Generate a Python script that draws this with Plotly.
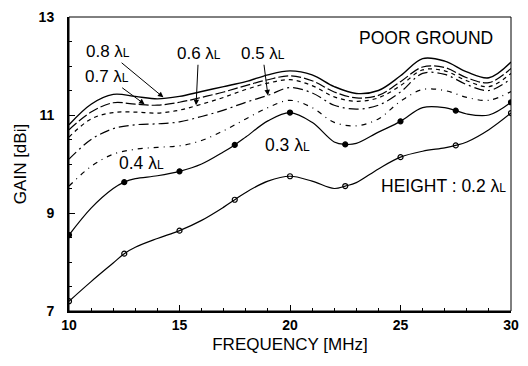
import plotly.graph_objects as go

# Frequency grid (MHz) for the dashed / upper curves
freq = [10, 11, 12, 13, 14, 15, 16, 17, 18, 19, 20,
        21, 22, 23, 24, 25, 26, 27, 28, 29, 30]

gain_08 = [10.80, 11.22, 11.42, 11.38, 11.33, 11.38, 11.48, 11.58, 11.68, 11.82, 11.90,
           11.82, 11.58, 11.44, 11.50, 11.80, 12.15, 12.10, 11.88, 11.76, 12.08]
gain_07 = [10.70, 11.06, 11.25, 11.22, 11.20, 11.26, 11.36, 11.47, 11.60, 11.72, 11.80,
           11.70, 11.47, 11.35, 11.40, 11.68, 11.98, 11.97, 11.76, 11.66, 11.95]
gain_06 = [10.55, 10.92, 11.05, 11.06, 11.04, 11.10, 11.22, 11.36, 11.52, 11.65, 11.72,
           11.60, 11.37, 11.28, 11.35, 11.60, 11.92, 11.90, 11.70, 11.58, 11.85]
gain_05 = [10.10, 10.50, 10.72, 10.80, 10.82, 10.86, 10.97, 11.10, 11.26, 11.40, 11.56,
           11.45, 11.20, 11.12, 11.20, 11.47, 11.85, 11.83, 11.62, 11.50, 11.74]
gain_04 = [9.55, 9.95, 10.20, 10.30, 10.34, 10.37, 10.48, 10.68, 10.92, 11.15, 11.30,
           11.15, 10.85, 10.78, 10.92, 11.28, 11.52, 11.50, 11.36, 11.30, 11.48]

# Frequency grid for the two lowest heights (includes the 2.5 MHz marker points)
freq_low = [10, 11, 12, 12.5, 13, 14, 15, 16, 17, 17.5, 18, 19, 20,
            21, 22, 22.5, 23, 24, 25, 26, 27, 27.5, 28, 29, 30]
gain_03 = [8.55, 9.10, 9.50, 9.63, 9.70, 9.76, 9.85, 10.00, 10.25, 10.39, 10.55, 10.88, 11.05,
           10.85, 10.45, 10.40, 10.42, 10.65, 10.87, 11.15, 11.15, 11.09, 11.02, 11.00, 11.26]
gain_02 = [7.20, 7.60, 7.98, 8.17, 8.30, 8.48, 8.64, 8.85, 9.12, 9.27, 9.42, 9.65, 9.75,
           9.65, 9.50, 9.55, 9.62, 9.90, 10.14, 10.26, 10.33, 10.38, 10.45, 10.70, 11.04]

marker_freqs = [10, 12.5, 15, 17.5, 20, 22.5, 25, 27.5, 30]

x_ticks = [10, 15, 20, 25, 30]
y_ticks = [7, 9, 11, 13]

FONT = "Liberation Sans, Arial, sans-serif"
LAM = "λ<span style='font-size:12px'>L</span>"

fig = go.Figure()

upper = [
    (gain_08, "solid", 1.4),
    (gain_07, "10px,3px", 1.2),
    (gain_06, "4px,4px", 1.2),
    (gain_05, "10px,4px,2px,4px", 1.2),
    (gain_04, "5px,5px,1px,5px", 1.2),
]
for g, dash, w in upper:
    fig.add_trace(go.Scatter(x=freq, y=g, mode="lines",
                             line=dict(color="black", width=w, dash=dash,
                                       shape="spline", smoothing=1.0),
                             hoverinfo="skip", showlegend=False))

for g, symbol in ((gain_03, "circle"), (gain_02, "circle-open")):
    fig.add_trace(go.Scatter(x=freq_low, y=g, mode="lines",
                             line=dict(color="black", width=1.2,
                                       shape="spline", smoothing=1.0),
                             hoverinfo="skip", showlegend=False))
    idx = [freq_low.index(f) for f in marker_freqs]
    fig.add_trace(go.Scatter(x=marker_freqs, y=[g[i] for i in idx], mode="markers",
                             marker=dict(symbol=symbol, size=5, color="black",
                                         line=dict(color="black", width=1.2)),
                             hoverinfo="skip", showlegend=False))

# Height labels with arrows pointing to their curves
arrow_labels = [
    ("0.8 " + LAM, 11.78, 12.29, 14.27, 11.36),
    ("0.7 " + LAM, 11.73, 11.78, 13.42, 11.22),
    ("0.6 " + LAM, 15.86, 12.25, 15.75, 11.20),
    ("0.5 " + LAM, 18.76, 12.25, 19.00, 11.40),
]
for text, tx, ty, px, py in arrow_labels:
    fig.add_annotation(x=px, y=py, ax=tx, ay=ty, axref="x", ayref="y",
                       text=text, showarrow=True, arrowhead=2, arrowsize=1.1,
                       arrowwidth=1, arrowcolor="black", standoff=0,
                       font=dict(family=FONT, size=17, color="black"))

plain_labels = [
    ("0.4 " + LAM, 13.3, 10.03),
    ("0.3 " + LAM, 19.9, 10.38),
    ("HEIGHT : 0.2 " + LAM, 26.95, 9.55),
    ("POOR GROUND", 26.15, 12.57),
]
for text, tx, ty in plain_labels:
    fig.add_annotation(x=tx, y=ty, text=text, showarrow=False,
                       font=dict(family=FONT, size=17.5, color="black"))

# thin frame on the top/right edges
fig.add_shape(type="rect", xref="paper", yref="paper", x0=0, y0=0, x1=1, y1=1,
              line=dict(color="black", width=1))

fig.update_xaxes(range=[10, 30], tickvals=x_ticks, ticks="inside", ticklen=6,
                 tickwidth=1, tickcolor="black",
                 minor=dict(dtick=1, ticks="inside", ticklen=3, tickcolor="black"),
                 showline=True, linewidth=2, linecolor="black", showgrid=False,
                 zeroline=False,
                 tickfont=dict(family=FONT, size=14, color="black", weight="bold"),
                 title=dict(text="FREQUENCY [MHz]", standoff=6,
                            font=dict(family=FONT, size=17, color="black")))
fig.update_yaxes(range=[7, 13], tickvals=y_ticks, ticks="inside", ticklen=6,
                 tickwidth=1, tickcolor="black", ticklabelstandoff=10,
                 minor=dict(dtick=0.5, ticks="inside", ticklen=3, tickcolor="black"),
                 showline=True, linewidth=2, linecolor="black", showgrid=False,
                 zeroline=False,
                 tickfont=dict(family=FONT, size=14, color="black", weight="bold"),
                 title=dict(text="GAIN [dBi]", standoff=8,
                            font=dict(family=FONT, size=17, color="black")))

fig.update_layout(width=528, height=366,
                  margin=dict(l=69, r=9, t=11, b=55),
                  paper_bgcolor="white", plot_bgcolor="white",
                  showlegend=False)

fig.write_html("out.html")
